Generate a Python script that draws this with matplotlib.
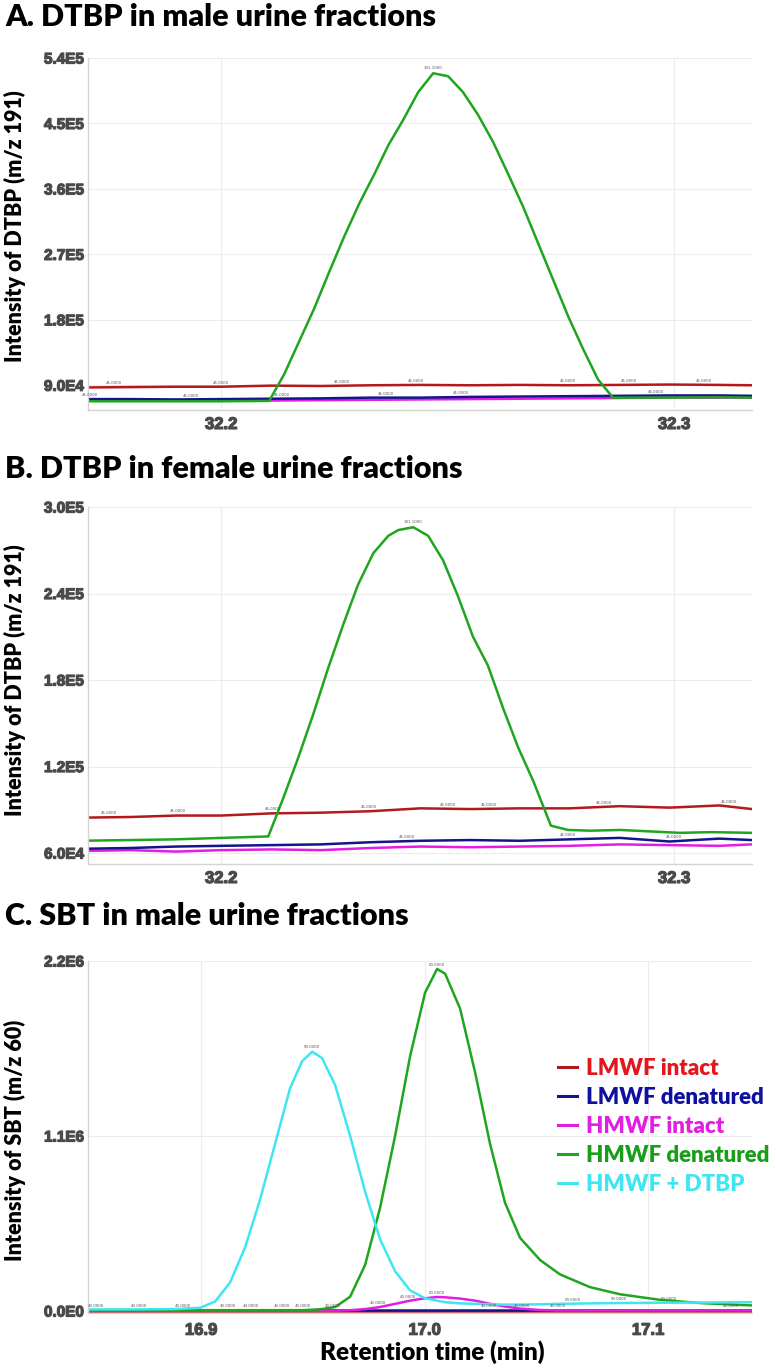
import numpy as np
import matplotlib
matplotlib.use("Agg")
import matplotlib.pyplot as plt
import matplotlib.patheffects as pe

# ---- data ----
# panels A / B : baseline sampling times (min)
base_t = [32.1706, 32.180, 32.190, 32.200, 32.211, 32.222, 32.233, 32.244,
          32.255, 32.266, 32.277, 32.288, 32.299, 32.310, 32.3172]

# A. DTBP, male
a_red = [8.70e4, 8.75e4, 8.80e4, 8.80e4, 8.95e4, 8.90e4, 9.00e4, 9.05e4,
         9.00e4, 9.05e4, 9.00e4, 9.05e4, 9.10e4, 9.05e4, 9.00e4]
a_blue = [7.10e4, 7.10e4, 7.05e4, 7.10e4, 7.15e4, 7.20e4, 7.30e4, 7.30e4,
          7.40e4, 7.45e4, 7.50e4, 7.55e4, 7.60e4, 7.60e4, 7.55e4]
a_mag = [6.90e4, 6.90e4, 6.85e4, 6.90e4, 6.90e4, 6.95e4, 7.00e4, 7.05e4,
         7.10e4, 7.15e4, 7.20e4, 7.25e4, 7.30e4, 7.30e4, 7.30e4]
a_green_t = [32.1706, 32.180, 32.190, 32.200, 32.2106, 32.2139, 32.2172,
             32.2205, 32.2238, 32.2272, 32.2305, 32.2338, 32.2369, 32.2402,
             32.2435, 32.2468, 32.2501, 32.2534, 32.2567, 32.2600, 32.2634,
             32.2667, 32.2700, 32.2733, 32.2766, 32.2799, 32.2832, 32.2865,
             32.299, 32.310, 32.3172]
a_green = [6.80e4, 6.80e4, 6.80e4, 6.80e4, 6.85e4, 1.05e5, 1.50e5, 1.95e5,
           2.45e5, 2.95e5, 3.40e5, 3.80e5, 4.20e5, 4.55e5, 4.93e5, 5.19e5,
           5.15e5, 4.93e5, 4.62e5, 4.25e5, 3.80e5, 3.35e5, 2.85e5, 2.35e5,
           1.85e5, 1.40e5, 9.80e4, 7.30e4, 7.30e4, 7.35e4, 7.30e4]

# B. DTBP, female
b_red = [8.46e4, 8.50e4, 8.60e4, 8.60e4, 8.75e4, 8.80e4, 8.90e4, 9.10e4,
         9.05e4, 9.10e4, 9.10e4, 9.25e4, 9.15e4, 9.30e4, 9.05e4]
b_blue = [6.30e4, 6.35e4, 6.45e4, 6.50e4, 6.55e4, 6.60e4, 6.75e4, 6.85e4,
          6.90e4, 6.85e4, 6.95e4, 7.05e4, 6.80e4, 7.00e4, 6.90e4]
b_mag = [6.15e4, 6.20e4, 6.10e4, 6.20e4, 6.25e4, 6.20e4, 6.35e4, 6.45e4,
         6.40e4, 6.45e4, 6.50e4, 6.60e4, 6.55e4, 6.50e4, 6.60e4]
b_green_t = [32.1706, 32.180, 32.190, 32.200, 32.2104, 32.2137, 32.2170,
             32.2203, 32.2236, 32.2269, 32.2302, 32.2336, 32.2369, 32.2391,
             32.2424, 32.2457, 32.2490, 32.2523, 32.2556, 32.2589, 32.2623,
             32.2656, 32.2689, 32.2728, 32.2766, 32.2815, 32.2881, 32.2947,
             32.3013, 32.3080, 32.3172]
b_green = [6.86e4, 6.90e4, 6.95e4, 7.05e4, 7.15e4, 9.80e4, 1.26e5, 1.56e5,
           1.88e5, 2.18e5, 2.46e5, 2.68e5, 2.80e5, 2.84e5, 2.86e5, 2.80e5,
           2.63e5, 2.38e5, 2.10e5, 1.90e5, 1.60e5, 1.33e5, 1.10e5, 7.90e4,
           7.60e4, 7.55e4, 7.60e4, 7.50e4, 7.40e4, 7.45e4, 7.40e4]

# C. SBT, male
c_t = [16.8494, 16.8682, 16.8884, 16.8996, 16.9063, 16.9130, 16.9197,
       16.9264, 16.9331, 16.9398, 16.9452, 16.9497, 16.9541, 16.9600,
       16.9667, 16.9734, 16.9801, 16.9868, 16.9935, 17.0002, 17.0056,
       17.0092, 17.0159, 17.0226, 17.0293, 17.0360, 17.0427, 17.0517,
       17.0606, 17.0740, 17.0875, 17.1054, 17.1233, 17.1465]
c_cyan = [1.0e4, 1.0e4, 1.2e4, 2.0e4, 6.0e4, 1.8e5, 4.0e5, 7.0e5,
          1.05e6, 1.40e6, 1.57e6, 1.63e6, 1.59e6, 1.42e6, 1.10e6, 7.5e5,
          4.5e5, 2.5e5, 1.3e5, 8.0e4, 6.5e4, 5.5e4, 4.8e4, 4.5e4,
          4.2e4, 4.0e4, 4.0e4, 4.2e4, 4.5e4, 4.8e4, 5.0e4, 5.2e4, 5.3e4,
          5.5e4]
c_green = [5.0e3, 5.0e3, 5.0e3, 5.0e3, 5.0e3, 5.0e3, 5.0e3, 5.0e3,
           5.0e3, 5.0e3, 5.0e3, 8.0e3, 1.2e4, 2.5e4, 9.0e4, 2.9e5,
           6.5e5, 1.10e6, 1.60e6, 2.00e6, 2.15e6, 2.12e6, 1.90e6, 1.50e6,
           1.05e6, 6.8e5, 4.6e5, 3.2e5, 2.3e5, 1.5e5, 1.05e5, 7.0e4, 5.0e4,
           3.5e4]
c_mag = [2.0e3, 2.0e3, 2.0e3, 2.0e3, 2.0e3, 2.0e3, 2.0e3, 2.0e3,
         2.0e3, 2.0e3, 2.0e3, 2.0e3, 2.0e3, 2.0e3, 5.0e3, 1.2e4,
         2.5e4, 4.5e4, 6.5e4, 8.0e4, 8.8e4, 8.6e4, 7.8e4, 6.5e4,
         4.5e4, 2.8e4, 1.5e4, 6.0e3, 3.0e3, 3.0e3, 3.0e3, 3.0e3, 3.0e3,
         3.0e3]
c_blue = [5.0e3] * 34
c_red = [1.0e3] * 34

labels = ["LMWF intact", "LMWF denatured", "HMWF intact", "HMWF denatured",
          "HMWF + DTBP"]
line_cols = ["#b3191c", "#14148c", "#e31ee3", "#1fa51f", "#3fe6f2"]
text_cols = ["#e3161c", "#1010a0", "#e31ee3", "#1a9e1a", "#3fe6f2"]

# tiny point labels (time positions) drawn by the acquisition software
a_lab = [(a_red, 32.1762, "45.0000"), (a_red, 32.2, "45.0000"),
         (a_red, 32.2267, "45.0000"), (a_red, 32.2430, "45.0000"),
         (a_red, 32.2766, "45.0000"), (a_red, 32.2899, "45.0000"),
         (a_red, 32.3065, "45.0000"), (a_blue, 32.1711, "45.0000"),
         (a_blue, 32.1934, "45.0000"), (a_blue, 32.2135, "45.0000"),
         (a_blue, 32.2364, "45.0000"), (a_blue, 32.2530, "45.0000"),
         (a_blue, 32.2960, "45.0000")]
b_lab = [(b_red, 32.1752, "45.0000"), (b_red, 32.1905, "45.0000"),
         (b_red, 32.2115, "45.0000"), (b_red, 32.2325, "45.0000"),
         (b_red, 32.2500, "45.0000"), (b_red, 32.2590, "45.0000"),
         (b_red, 32.2845, "45.0000"), (b_red, 32.3120, "45.0000"),
         (b_blue, 32.2410, "45.0000"), (b_blue, 32.2765, "45.0000"),
         (b_blue, 32.3000, "45.0000")]
c_lab = [(c_blue, 16.8530, "43.0000"), (c_blue, 16.8720, "43.0000"),
         (c_blue, 16.8920, "43.0000"), (c_blue, 16.9120, "43.0000"),
         (c_blue, 16.9225, "44.0000"), (c_blue, 16.9360, "43.0000"),
         (c_blue, 16.9455, "43.0000"), (c_blue, 16.9590, "43.0000"),
         (c_mag, 16.9790, "43.0000"), (c_mag, 16.9925, "43.0000"),
         (c_blue, 17.0290, "43.0000"), (c_blue, 17.0435, "43.0000"),
         (c_blue, 17.0595, "43.0000"), (c_cyan, 17.0665, "59.0000"),
         (c_cyan, 17.0870, "59.0000"), (c_cyan, 17.1095, "59.0000"),
         (c_blue, 17.1370, "43.0000")]

W, H = 776, 1370
fig = plt.figure(figsize=(W / 100, H / 100), dpi=100)
heavy = [pe.withStroke(linewidth=0.9, foreground="#4a4a4a")]


def rect(l, t, r, b):
    return [l / W, 1 - b / H, (r - l) / W, (b - t) / H]


def style(ax, xt, xl, yt, yl):
    for s in ["top", "right"]:
        ax.spines[s].set_visible(False)
    for s in ["left", "bottom"]:
        ax.spines[s].set_color("#d4d4d4")
        ax.spines[s].set_linewidth(1)
    ax.set_xticks(xt, xl)
    ax.set_yticks(yt, yl)
    ax.grid(True, color="#ececec", lw=0.8)
    ax.set_axisbelow(True)
    ax.tick_params(length=0, colors="#4a4a4a")
    ax.tick_params(axis="y", pad=3)
    ax.tick_params(axis="x", pad=5)
    for lab in ax.get_xticklabels():
        lab.set_fontfamily("Liberation Sans")
        lab.set_fontweight("bold")
        lab.set_fontsize(12)
        lab.set_path_effects(heavy)
    for lab in ax.get_yticklabels():
        lab.set_fontfamily("Liberation Sans")
        lab.set_fontweight("bold")
        lab.set_fontsize(11)
        lab.set_path_effects(heavy)


def tiny(ax, x, y, s):
    ax.text(x, y, s, fontsize=2.8, color="#555555", ha="center", va="bottom",
            family="DejaVu Sans")


title_kw = dict(fontsize=22, fontweight="heavy", family="Lato", va="center")
ylab_kw = dict(fontsize=15.5, fontweight="heavy", family="Lato", rotation=90,
               ha="center", va="center")
LW = 1.8

# ---- A ----
ax = fig.add_axes(rect(88, 58, 752, 410))
ax.plot(base_t, a_red, color=line_cols[0], lw=LW)
ax.plot(base_t, a_mag, color=line_cols[2], lw=LW)
ax.plot(base_t, a_blue, color=line_cols[1], lw=LW)
ax.plot(a_green_t, a_green, color=line_cols[3], lw=LW)
ax.set_xlim(32.1706, 32.3172)
ax.set_ylim(5.6e4, 5.4e5)
style(ax, [32.2, 32.3], ["32.2", "32.3"],
      [9.0e4, 1.8e5, 2.7e5, 3.6e5, 4.5e5, 5.4e5],
      ["9.0E4", "1.8E5", "2.7E5", "3.6E5", "4.5E5", "5.4E5"])
for ser, t, s in a_lab:
    tiny(ax, t, np.interp(t, base_t, ser) + 2.5e3, s)
pk = int(np.argmax(a_green))
tiny(ax, a_green_t[pk], a_green[pk] + 4e3, "191.1000")
fig.text(5 / W, 1 - 17 / H, "A. DTBP in male urine fractions", **title_kw)
fig.text(15 / W, 1 - 226 / H, "Intensity of DTBP (m/z 191)", **ylab_kw)

# ---- B ----
ax = fig.add_axes(rect(88, 507, 752, 864))
ax.plot(base_t, b_red, color=line_cols[0], lw=LW)
ax.plot(base_t, b_mag, color=line_cols[2], lw=LW)
ax.plot(base_t, b_blue, color=line_cols[1], lw=LW)
ax.plot(b_green_t, b_green, color=line_cols[3], lw=LW)
ax.set_xlim(32.1706, 32.3172)
ax.set_ylim(5.24e4, 3.0e5)
style(ax, [32.2, 32.3], ["32.2", "32.3"],
      [6.0e4, 1.2e5, 1.8e5, 2.4e5, 3.0e5],
      ["6.0E4", "1.2E5", "1.8E5", "2.4E5", "3.0E5"])
for ser, t, s in b_lab:
    tiny(ax, t, np.interp(t, base_t, ser) + 1.5e3, s)
pk = int(np.argmax(b_green))
tiny(ax, b_green_t[pk], b_green[pk] + 2e3, "191.1000")
fig.text(5 / W, 1 - 469 / H, "B. DTBP in female urine fractions", **title_kw)
fig.text(15 / W, 1 - 680 / H, "Intensity of DTBP (m/z 191)", **ylab_kw)

# ---- C ----
ax = fig.add_axes(rect(88, 961, 752, 1313))
series = [c_red, c_blue, c_mag, c_green, c_cyan]
for ser, col, lab in zip(series, line_cols, labels):
    ax.plot(c_t, ser, color=col, lw=LW, label=lab)
ax.set_xlim(16.8494, 17.1465)
ax.set_ylim(-1.26e4, 2.2e6)
style(ax, [16.9, 17.0, 17.1], ["16.9", "17.0", "17.1"],
      [0, 1.1e6, 2.2e6], ["0.0E0", "1.1E6", "2.2E6"])
ax.tick_params(axis="x", pad=7)
for ser, t, s in c_lab:
    tiny(ax, t, np.interp(t, c_t, ser) + 1.2e4, s)
for ser, s in [(c_cyan, "59.0000"), (c_green, "60.0000"), (c_mag, "60.0000")]:
    k = int(np.argmax(ser))
    tiny(ax, c_t[k], ser[k] + 1.5e4, s)
leg = ax.legend(loc="upper left", bbox_to_anchor=(0.691, 0.757), frameon=False,
                borderpad=0, handlelength=0.86, handletextpad=0.4,
                labelspacing=0.36, prop=dict(family="Lato", weight="heavy",
                                             size=16))
for txt, col in zip(leg.get_texts(), text_cols):
    txt.set_color(col)
for h in leg.get_lines():
    h.set_linewidth(2.2)
fig.text(5 / W, 1 - 916 / H, "C. SBT in male urine fractions", **title_kw)
fig.text(15 / W, 1 - 1140 / H, "Intensity of SBT (m/z 60)", **ylab_kw)
fig.text(432 / W, 1 - 1352 / H, "Retention time (min)", fontsize=17.5,
         fontweight="heavy", family="Lato", ha="center", va="center")

fig.savefig("out.png", dpi=100)
